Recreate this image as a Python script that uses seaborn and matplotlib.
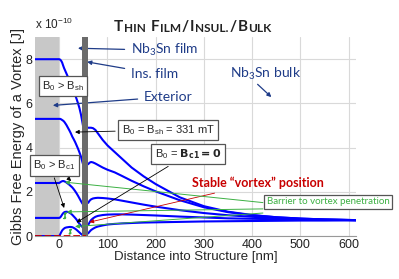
import numpy as np
import pandas as pd
import seaborn as sns
import matplotlib.pyplot as plt

# positions inside the structure [nm]
film_x = [-50, 0, 2, 4, 6, 8, 10, 12, 15, 18, 21, 24, 27, 30, 33, 36, 39, 42, 45, 48, 50]
bulk_x = [60, 63, 66, 70, 75, 80, 90, 100, 115, 130, 150, 175, 200, 250, 300, 350, 400, 450, 500, 550, 615]

# Gibbs free energy [x 1e-10 J], one curve per applied field
e1_film = [8.0, 8.0, 7.98, 7.93, 7.85, 7.72, 7.6, 7.5, 7.35, 7.2, 7.05, 6.9, 6.72, 6.55, 6.38, 6.2, 6.0, 5.78, 5.5, 5.15, 4.9]
e1_bulk = [4.9, 4.9, 4.9, 4.88, 4.8, 4.65, 4.35, 4.1, 3.8, 3.5, 3.1, 2.7, 2.35, 1.75, 1.35, 1.1, 0.95, 0.85, 0.79, 0.75, 0.72]
e2_film = [5.3, 5.3, 5.3, 5.28, 5.25, 5.22, 5.18, 5.12, 5.02, 4.9, 4.78, 4.65, 4.5, 4.38, 4.25, 4.1, 3.95, 3.78, 3.6, 3.35, 3.2]
e2_bulk = [3.25, 3.32, 3.35, 3.33, 3.28, 3.22, 3.1, 3.0, 2.88, 2.72, 2.5, 2.25, 2.02, 1.62, 1.3, 1.08, 0.94, 0.85, 0.79, 0.75, 0.72]
e3_film = [2.4, 2.4, 2.43, 2.46, 2.48, 2.49, 2.48, 2.46, 2.42, 2.37, 2.32, 2.26, 2.2, 2.12, 2.03, 1.93, 1.82, 1.7, 1.58, 1.47, 1.42]
e3_bulk = [1.5, 1.6, 1.66, 1.7, 1.72, 1.73, 1.72, 1.7, 1.66, 1.6, 1.52, 1.42, 1.33, 1.17, 1.04, 0.94, 0.87, 0.81, 0.77, 0.74, 0.72]
e4_film = [0.82, 0.82, 0.84, 0.9, 0.97, 1.03, 1.07, 1.09, 1.1, 1.09, 1.06, 1.02, 0.96, 0.89, 0.82, 0.74, 0.64, 0.55, 0.47, 0.41, 0.38]
e4_bulk = [0.5, 0.62, 0.72, 0.8, 0.87, 0.91, 0.95, 0.97, 0.98, 0.98, 0.97, 0.95, 0.93, 0.88, 0.84, 0.8, 0.78, 0.76, 0.74, 0.73, 0.72]
e5_film = [0.0, 0.0, 0.08, 0.17, 0.25, 0.3, 0.34, 0.37, 0.39, 0.4, 0.41, 0.41, 0.4, 0.37, 0.33, 0.28, 0.22, 0.16, 0.1, 0.05, 0.03]
e5_bulk = [0.12, 0.2, 0.27, 0.33, 0.39, 0.43, 0.48, 0.52, 0.55, 0.57, 0.59, 0.61, 0.62, 0.64, 0.66, 0.67, 0.68, 0.69, 0.7, 0.7, 0.71]

sns.set_style("whitegrid")
plt.rcParams['font.family'] = ['Liberation Sans', 'DejaVu Sans']
plt.rcParams['mathtext.default'] = 'regular'

fig = plt.figure(figsize=(3.99, 2.79), dpi=100)
ax = fig.add_axes([0.088, 0.154, 0.804, 0.713])

navy = '#1f3c88'
green = '#3cb043'
red = '#c80000'
lato = ['Lato', 'DejaVu Sans']

# exterior and insulating film
ax.axvspan(-50, 0, color='#c8c8c8', lw=0, zorder=1)
ax.axvspan(48, 60, color='#6b6b6b', lw=0, zorder=4)

curves = [(e1_film, e1_bulk), (e2_film, e2_bulk), (e3_film, e3_bulk),
          (e4_film, e4_bulk), (e5_film, e5_bulk)]
for ef, eb in curves:
    sns.lineplot(x=film_x, y=ef, ax=ax, color='#0000ff', lw=1.5, zorder=3)
    sns.lineplot(x=bulk_x, y=eb, ax=ax, color='#0000ff', lw=1.5, zorder=3)

ax.plot([-50, 55], [0, 0], color=red, ls='--', lw=1.3, zorder=5)

ax.set_xlim(-50, 615)
ax.set_ylim(0, 9)
ax.set_xticks([0, 100, 200, 300, 400, 500, 600])
ax.set_yticks([0, 2, 4, 6, 8])
ax.tick_params(labelsize=9, length=0, pad=2, colors='#222222')
ax.grid(color='#d9d9d9', lw=0.8)
for s in ax.spines.values():
    s.set_visible(False)
ax.spines['bottom'].set_visible(True)
ax.spines['bottom'].set_color('#999999')
ax.set_xlabel('Distance into Structure [nm]', fontsize=9.5, labelpad=0)
ax.set_ylabel('Gibbs Free Energy of a Vortex [J]', fontsize=10.5, labelpad=0)
ax.text(-51, 9.25, r'x 10$^{-10}$', fontsize=8.5, ha='left', va='bottom')

# region labels
lab = dict(fontsize=10, color=navy, family=lato, va='center')
arr = dict(arrowstyle='-|>', color=navy, lw=0.9, mutation_scale=6)
ax.annotate(r'Nb$_3$Sn film', xy=(33, 8.5), xytext=(148, 8.4), arrowprops=arr, **lab)
ax.annotate('Ins. film', xy=(52, 7.9), xytext=(148, 7.35), arrowprops=arr, **lab)
ax.annotate('Exterior', xy=(-19, 5.9), xytext=(175, 6.3), arrowprops=arr, **lab)
ax.text(355, 7.35, r'Nb$_3$Sn bulk', ha='left', **lab)
ax.annotate('', xy=(444, 6.2), xytext=(407, 6.95), arrowprops=arr)

# field labels
box = dict(boxstyle='square,pad=0.3', fc='white', ec='#555555', lw=0.9)
blk = dict(arrowstyle='-|>', color='black', lw=0.6, mutation_scale=6)
ax.text(8, 6.8, r'B$_0$ > B$_{sh}$', fontsize=8, ha='center', va='center', bbox=box, zorder=6)
ax.annotate(r'B$_0$ = B$_{sh}$ = 331 mT', xy=(27, 4.7), xytext=(226, 4.8), fontsize=8,
            ha='center', va='center', bbox=box, arrowprops=blk, zorder=6)
ax.annotate(r'B$_0$ > B$_{c1}$', xy=(29, 2.4), xytext=(-10, 3.2), fontsize=8,
            ha='center', va='center', bbox=box, arrowprops=blk, zorder=6)
ax.annotate('', xy=(12, 1.15), xytext=(-12, 2.75), arrowprops=blk, zorder=6)
ax.annotate(r'B$_0$ = $\mathbf{B_{c1} = 0}$', xy=(31, 0.55), xytext=(267, 3.7),
            fontsize=8, ha='center', va='center', bbox=box, arrowprops=blk, zorder=6)

# stable position
ax.annotate('Stable \u201cvortex\u201d position', xy=(57, 0.6), xytext=(276, 2.4),
            fontsize=9, color=red, fontweight='bold', va='center', family=lato,
            arrowprops=dict(arrowstyle='-|>', color=red, lw=0.6, mutation_scale=6))

# barrier
gbox = dict(boxstyle='square,pad=0.25', fc='white', ec='#555555', lw=0.9)
ax.text(430, 1.55, 'Barrier to vortex penetration', fontsize=7, color=green,
        family=lato, va='center', bbox=gbox, clip_on=False, zorder=6)
garr = dict(arrowstyle='-|>', color=green, lw=0.7, mutation_scale=6)
for (tx, ty), (hx, hy) in [((428, 1.5), (6, 2.45)), ((428, 1.23), (10, 1.09)),
                           ((428, 1.05), (27, 0.42))]:
    ax.annotate('', xy=(hx, hy), xytext=(tx, ty), arrowprops=garr, zorder=5)
vd = dict(arrowstyle='<|-|>', color=green, lw=0.8, ls='--', mutation_scale=4)
ax.annotate('', xy=(12, 1.07), xytext=(12, 0.76), arrowprops=vd, zorder=5)
ax.annotate('', xy=(23, 0.38), xytext=(23, 0.02), arrowprops=vd, zorder=5)

# small-caps title, pieces chained one after another
parts = [('T', 11), ('HIN', 8.5), ('F', 11), ('ILM', 8.5), ('/', 11), ('I', 11),
         ('NSUL.', 8.5), ('/', 11), ('B', 11), ('ULK', 8.5)]
gaps = [0, 0.6, 3.5, 0.6, 0.6, 0.6, 0.6, 0.6, 0.6, 0.6]
prev = fig.text(0.285, 0.878, parts[0][0], fontsize=parts[0][1], fontweight='bold',
                family=lato, color='#222222', va='bottom')
for (s, fs), g in zip(parts[1:], gaps[1:]):
    prev = ax.annotate(s, xy=(1, 0), xycoords=prev, xytext=(g, 0), textcoords='offset points',
                       fontsize=fs, fontweight='bold', family=lato, color='#222222',
                       va='bottom', ha='left', annotation_clip=False)

plt.savefig('out.png', dpi=100)
